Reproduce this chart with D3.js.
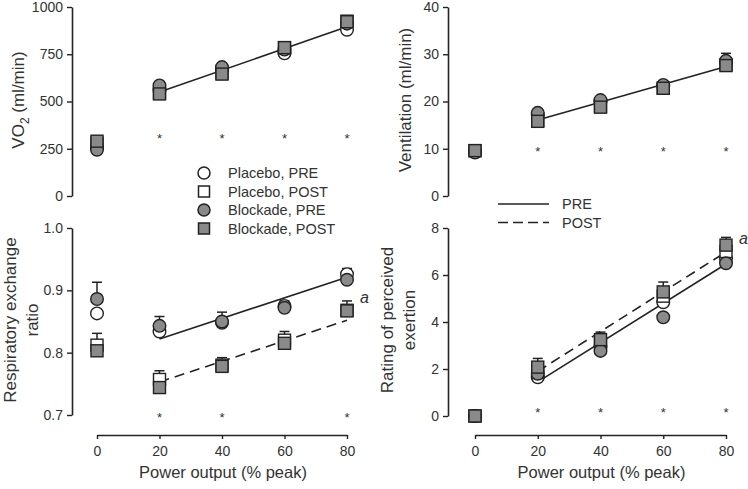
<!DOCTYPE html>
<html><head><meta charset="utf-8">
<script src="https://cdn.jsdelivr.net/npm/d3@7"></script>
<style>
html,body{margin:0;padding:0;background:#fff;}
svg{display:block;font-family:"Liberation Sans",Arial,sans-serif;}
</style></head>
<body>
<svg id="chart" width="748" height="489"></svg>
<script>
// ---------- data ----------
const powerLevels = [0, 20, 40, 60, 80];
const xTicks = [0, 20, 40, 60, 80];

const vo2PlaceboPre   = [255, 560, 668, 755, 880];
const vo2PlaceboPost  = [280, 545, 650, 785, 925];
const vo2BlockadePre  = [245, 585, 682, 775, 912];
const vo2BlockadePost = [290, 540, 645, 785, 922];
const vo2PreFit = [[20, 550], [80, 895]];
const vo2Ticks = [0, 250, 500, 750, 1000];
const vo2Stars = [20, 40, 60, 80];

const vePlaceboPre   = [9.3, 17.2, 20.0, 23.3, 28.3];
const vePlaceboPost  = [9.6, 16.0, 19.0, 22.8, 27.8];
const veBlockadePre  = [9.2, 17.6, 20.3, 23.5, 28.6];
const veBlockadePost = [9.6, 15.8, 18.8, 22.8, 27.6];
const veBlockadePreErr = [null, null, null, null, 1.6];
const vePreFit = [[20, 16.1], [80, 27.4]];
const veTicks = [0, 10, 20, 30, 40];
const veStars = [20, 40, 60, 80];

const rerPlaceboPre   = [0.863, 0.834, 0.848, 0.875, 0.926];
const rerPlaceboPost  = [0.812, 0.757, 0.780, 0.820, 0.868];
const rerBlockadePre  = [0.886, 0.843, 0.850, 0.872, 0.917];
const rerBlockadePost = [0.803, 0.744, 0.778, 0.815, 0.867];
const rerPlaceboPostErr = [0.019, 0.014, 0.012, 0.014, 0.015];
const rerBlockadePreErr = [0.027, 0.015, 0.015, 0.011, 0.018];
const rerPreFit  = [[20, 0.822], [80, 0.921]];
const rerPostFit = [[20, 0.753], [80, 0.852]];
const rerTicks = [0.7, 0.8, 0.9, 1.0];
const rerStars = [20, 40, 80];

const rpePlaceboPre   = [0, 1.65, 2.95, 4.84, 6.70];
const rpePlaceboPost  = [0, 1.85, 3.10, 5.10, 7.00];
const rpeBlockadePre  = [0, 1.80, 2.77, 4.20, 6.50];
const rpeBlockadePost = [0, 2.08, 3.25, 5.28, 7.27];
const rpeBlockadePostErr = [null, 0.37, 0.32, 0.42, 0.33];
const rpePreFit  = [[20, 1.45], [80, 6.47]];
const rpePostFit = [[20, 1.90], [80, 6.98]];
const rpeTicks = [0, 2, 4, 6, 8];
const rpeStars = [20, 40, 60, 80];

const legendLabels = ["Placebo, PRE", "Placebo, POST", "Blockade, PRE", "Blockade, POST"];
const lineLegendLabels = ["PRE", "POST"];

// ---------- drawing ----------
const svg = d3.select("#chart");
const AX = "#222";
const FILL_GRAY = "#8a8a8a";
const TXT = "#333";
const FONT = "Liberation Sans, Arial, sans-serif";

function drawPanel(cfg) {
  const x = d3.scaleLinear().domain([0, 80]).range(cfg.xr);
  const y = d3.scaleLinear().domain(cfg.yd).range(cfg.yr);
  const g = svg.append("g");

  // y axis
  const ya = g.append("g").attr("transform", `translate(${cfg.yAxisX},0)`)
    .call(d3.axisLeft(y).tickValues(cfg.yTicks).tickSize(5).tickSizeOuter(0)
      .tickFormat(cfg.fmt));
  ya.select(".domain").attr("stroke", AX).attr("stroke-width", 1.6);
  ya.selectAll(".tick line").attr("stroke", AX).attr("stroke-width", 1.4);
  ya.selectAll(".tick text").attr("font-size", 14).attr("fill", TXT)
    .attr("font-family", FONT).attr("x", -9);

  // x axis (bottom panels only)
  if (cfg.xAxis) {
    const xa = g.append("g").attr("transform", `translate(0,${cfg.xAxisY})`)
      .call(d3.axisBottom(x).tickValues(xTicks).tickSize(4).tickSizeOuter(0));
    xa.select(".domain").attr("stroke", AX).attr("stroke-width", 1.6);
    xa.selectAll(".tick line").attr("stroke", AX).attr("stroke-width", 1.4);
    xa.selectAll(".tick text").attr("font-size", 14).attr("fill", TXT)
      .attr("font-family", FONT).attr("y", 11);
    g.append("text").attr("x", (cfg.xr[0] + cfg.xr[1]) / 2 + 1).attr("y", cfg.xAxisY + 43)
      .attr("text-anchor", "middle").attr("font-size", 16.5).attr("fill", TXT)
      .text("Power output (% peak)");
  }

  // fit lines
  const line = d3.line().x(d => x(d[0])).y(d => y(d[1]));
  if (cfg.preFit) g.append("path").datum(cfg.preFit).attr("d", line)
    .attr("stroke", AX).attr("stroke-width", 1.6).attr("fill", "none");
  if (cfg.postFit) g.append("path").datum(cfg.postFit).attr("d", line)
    .attr("stroke", AX).attr("stroke-width", 1.6).attr("fill", "none")
    .attr("stroke-dasharray", "10,6");

  // series
  const series = [
    {v: cfg.pp, shape: "circle", fill: "#fff", err: cfg.ppErr},
    {v: cfg.pq, shape: "square", fill: "#fff", err: cfg.pqErr},
    {v: cfg.bp, shape: "circle", fill: FILL_GRAY, err: cfg.bpErr},
    {v: cfg.bq, shape: "square", fill: FILL_GRAY, err: cfg.bqErr}
  ];
  series.forEach(s => {
    if (!s.err) return;
    s.v.forEach((val, i) => {
      const e = s.err[i];
      if (e == null) return;
      const px = x(powerLevels[i]);
      g.append("line").attr("x1", px).attr("x2", px).attr("y1", y(val)).attr("y2", y(val + e))
        .attr("stroke", AX).attr("stroke-width", 1.5);
      g.append("line").attr("x1", px - 5).attr("x2", px + 5).attr("y1", y(val + e)).attr("y2", y(val + e))
        .attr("stroke", AX).attr("stroke-width", 1.5);
    });
  });
  series.forEach(s => {
    s.v.forEach((val, i) => {
      const px = x(powerLevels[i]), py = y(val);
      if (s.shape === "circle") {
        g.append("circle").attr("cx", px).attr("cy", py).attr("r", 6.3)
          .attr("fill", s.fill).attr("stroke", AX).attr("stroke-width", 1.4);
      } else {
        g.append("rect").attr("x", px - 6).attr("y", py - 6).attr("width", 12).attr("height", 12)
          .attr("fill", s.fill).attr("stroke", AX).attr("stroke-width", 1.4);
      }
    });
  });

  // significance stars
  cfg.stars.forEach(sx => {
    g.append("text").attr("x", x(sx)).attr("y", y(cfg.starLevel) + 9)
      .attr("text-anchor", "middle").attr("font-size", 13).attr("fill", TXT).text("*");
  });

  if (cfg.aLabel) {
    g.append("text").attr("x", x(80) + 13).attr("y", y(cfg.aLabel) + 5)
      .attr("font-size", 16).attr("font-style", "italic").attr("fill", TXT).text("a");
  }

  // y title
  const t = g.append("text").attr("transform", `translate(${cfg.titleX},${cfg.titleY}) rotate(-90)`)
    .attr("text-anchor", "middle").attr("font-size", 17).attr("fill", TXT);
  if (cfg.titleFn) cfg.titleFn(t);
  else cfg.title.forEach((ln, k) => {
    t.append("tspan").attr("x", 0).attr("y", k * cfg.titleLH).text(ln);
  });
}

drawPanel({
  xr: [97, 347], yd: [0, 1000], yr: [196, 7], yAxisX: 72, yTicks: vo2Ticks, fmt: d3.format("d"),
  pp: vo2PlaceboPre, pq: vo2PlaceboPost, bp: vo2BlockadePre, bq: vo2BlockadePost,
  preFit: vo2PreFit, stars: vo2Stars, starLevel: 330,
  titleX: 24, titleY: 100,
  titleFn: t => {
    t.append("tspan").text("VO");
    t.append("tspan").attr("font-size", 12).attr("dy", 5).text("2");
    t.append("tspan").attr("dy", -5).text(" (ml/min)");
  }
});

drawPanel({
  xr: [475, 726], yd: [0, 40], yr: [196, 7], yAxisX: 448, yTicks: veTicks, fmt: d3.format("d"),
  pp: vePlaceboPre, pq: vePlaceboPost, bp: veBlockadePre, bq: veBlockadePost, bpErr: veBlockadePreErr,
  preFit: vePreFit, stars: veStars, starLevel: 10.4,
  titleX: 411, titleY: 100, title: ["Ventilation (ml/min)"], titleLH: 0
});

drawPanel({
  xr: [97, 347], yd: [0.7, 1.0], yr: [415, 228], yAxisX: 72, yTicks: rerTicks, fmt: d3.format(".1f"),
  pp: rerPlaceboPre, pq: rerPlaceboPost, bp: rerBlockadePre, bq: rerBlockadePost,
  pqErr: rerPlaceboPostErr, bpErr: rerBlockadePreErr,
  preFit: rerPreFit, postFit: rerPostFit, stars: rerStars, starLevel: 0.703,
  aLabel: 0.887,
  xAxis: true, xAxisY: 435,
  titleX: 16, titleY: 320, title: ["Respiratory exchange", "ratio"], titleLH: 22
});

drawPanel({
  xr: [475, 726], yd: [0, 8], yr: [416, 228], yAxisX: 448, yTicks: rpeTicks, fmt: d3.format("d"),
  pp: rpePlaceboPre, pq: rpePlaceboPost, bp: rpeBlockadePre, bq: rpeBlockadePost,
  bqErr: rpeBlockadePostErr,
  preFit: rpePreFit, postFit: rpePostFit, stars: rpeStars, starLevel: 0.34,
  aLabel: 7.55,
  xAxis: true, xAxisY: 435,
  titleX: 393, titleY: 320, title: ["Rating of perceived", "exertion"], titleLH: 22
});

// marker legend
const leg = svg.append("g");
const legStyles = [
  {shape: "circle", fill: "#fff"}, {shape: "square", fill: "#fff"},
  {shape: "circle", fill: FILL_GRAY}, {shape: "square", fill: FILL_GRAY}
];
legendLabels.forEach((lab, i) => {
  const cy = 173 + i * 18.5, cx = 204;
  const st = legStyles[i];
  if (st.shape === "circle") leg.append("circle").attr("cx", cx).attr("cy", cy).attr("r", 6)
    .attr("fill", st.fill).attr("stroke", AX).attr("stroke-width", 1.5);
  else leg.append("rect").attr("x", cx - 5.5).attr("y", cy - 5.5).attr("width", 11).attr("height", 11)
    .attr("fill", st.fill).attr("stroke", AX).attr("stroke-width", 1.5);
  leg.append("text").attr("x", 228).attr("y", cy + 5).attr("font-size", 14.5).attr("fill", TXT).text(lab);
});

// line legend
lineLegendLabels.forEach((lab, i) => {
  const ly = 204 + i * 18.5;
  leg.append("line").attr("x1", 498).attr("x2", 549).attr("y1", ly).attr("y2", ly)
    .attr("stroke", AX).attr("stroke-width", 1.6)
    .attr("stroke-dasharray", i === 1 ? "10,5" : null);
  leg.append("text").attr("x", 562).attr("y", ly + 5).attr("font-size", 14.5).attr("fill", TXT).text(lab);
});
</script>
</body></html>
